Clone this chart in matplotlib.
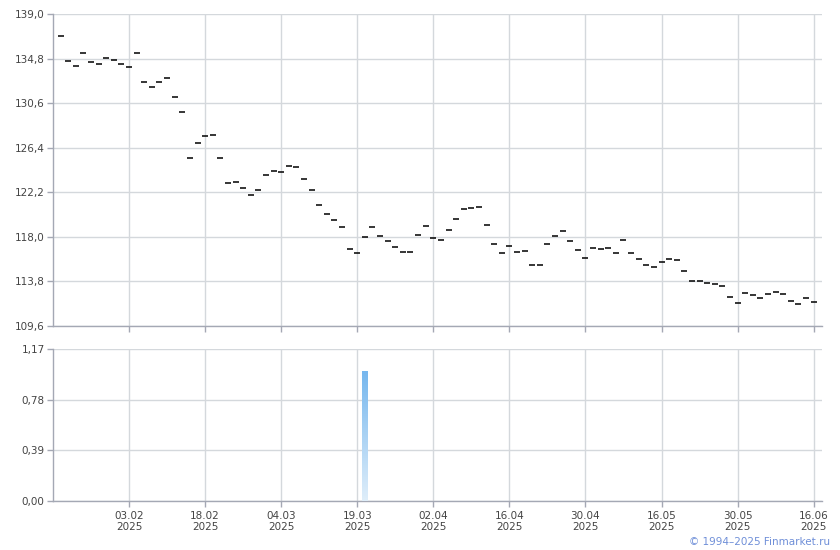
import numpy as np
import matplotlib
matplotlib.use('Agg')
import matplotlib.pyplot as plt
from matplotlib.ticker import FuncFormatter

# price readings, one per trading session (first one ends up left of 03.02)
prices = [
    136.95, 134.57, 134.09, 135.35, 134.50, 134.28, 134.85, 134.66, 134.28, 134.00,
    135.35, 132.61, 132.11, 132.61, 132.96, 131.17, 129.75, 125.42, 126.83, 127.49,
    127.58, 125.42, 123.06, 123.15, 122.58, 121.95, 122.40, 123.81, 124.22, 124.09,
    124.69, 124.57, 123.49, 122.40, 120.98, 120.13, 119.57, 118.91, 116.83, 116.45,
    117.96, 118.91, 118.06, 117.58, 117.02, 116.55, 116.55, 118.15, 119.00, 117.87,
    117.68, 118.62, 119.66, 120.60, 120.70, 120.79, 119.10, 117.30, 116.45, 117.11,
    116.55, 116.64, 115.32, 115.32, 117.30, 118.06, 118.53, 117.58, 116.74, 115.98,
    116.92, 116.83, 116.92, 116.45, 117.68, 116.45, 115.89, 115.32, 115.13, 115.60,
    115.89, 115.79, 114.75, 113.81, 113.81, 113.62, 113.53, 113.34, 112.30, 111.74,
    112.68, 112.49, 112.21, 112.58, 112.77, 112.58, 111.92, 111.64, 112.21, 111.83,
]
# volume: only one session has a non-zero value
volume_idx = [40]
volume_val = [1.0]

date_labels = ['03.02\n2025', '18.02\n2025', '04.03\n2025', '19.03\n2025', '02.04\n2025',
               '16.04\n2025', '30.04\n2025', '16.05\n2025', '30.05\n2025', '16.06\n2025']
date_idx = [9, 19, 29, 39, 49, 59, 69, 79, 89, 99]

price_ticks = [109.6, 113.8, 118.0, 122.2, 126.4, 130.6, 134.8, 139.0]
vol_ticks = [0.0, 0.39, 0.78, 1.17]

GRID = '#d4d8dc'
SPINE = '#a4a8b4'
TXT = '#444444'

fig = plt.figure(figsize=(8.4, 5.5), dpi=100)
ax1 = fig.add_axes([53 / 840, 1 - 326 / 550, 769 / 840, 312 / 550])
ax2 = fig.add_axes([53 / 840, 1 - 501 / 550, 769 / 840, 152 / 550])

x = np.arange(len(prices))


def style(ax):
    for s in ['top', 'right']:
        ax.spines[s].set_visible(False)
    for s in ['left', 'bottom']:
        ax.spines[s].set_color(SPINE)
        ax.spines[s].set_linewidth(1.0)
    ax.grid(True, color=GRID, linewidth=1.0)
    ax.set_axisbelow(True)
    ax.tick_params(axis='both', colors=SPINE, labelcolor=TXT, labelsize=7.5,
                   length=4, width=1.0, pad=2)
    ax.set_xlim(-1, 100.1)
    ax.set_xticks(date_idx)


comma = FuncFormatter(lambda v, p: f'{v:.1f}'.replace('.', ','))
comma2 = FuncFormatter(lambda v, p: f'{v:.2f}'.replace('.', ','))

# top: prices as short dashes
style(ax1)
ax1.plot(x, prices, linestyle='none', marker='_', markersize=4.2,
         markeredgewidth=1.1, color='black')
ax1.set_ylim(109.6, 139.0)
ax1.set_yticks(price_ticks)
ax1.yaxis.set_major_formatter(comma)
ax1.set_xticklabels([])

# bottom: volume bar with vertical gradient
style(ax2)
ax2.set_ylim(0, 1.17)
ax2.set_yticks(vol_ticks)
ax2.yaxis.set_major_formatter(comma2)
ax2.set_xticklabels(date_labels, linespacing=1.15)
ax2.tick_params(axis='x', pad=3)

bars = ax2.bar(volume_idx, volume_val, width=0.78, color='none', edgecolor='none')
grad = np.linspace(0, 1, 256).reshape(-1, 1)
cmap = matplotlib.colors.LinearSegmentedColormap.from_list('vol', ['#dfeefa', '#76b7ee'])
for b in bars:
    x0, w, h = b.get_x(), b.get_width(), b.get_height()
    im = ax2.imshow(grad, extent=[x0, x0 + w, 0, h], origin='lower', aspect='auto',
                    cmap=cmap, zorder=3)
    im.set_clip_path(b)
ax2.set_xlim(-1, 100.1)
ax2.set_ylim(0, 1.17)

fig.text(830 / 840, 1 - 542 / 550, '\u00a9 1994\u20132025 Finmarket.ru', color='#6f8fd8',
         fontsize=7.5, ha='right', va='center')

fig.savefig('out.png', dpi=100)
